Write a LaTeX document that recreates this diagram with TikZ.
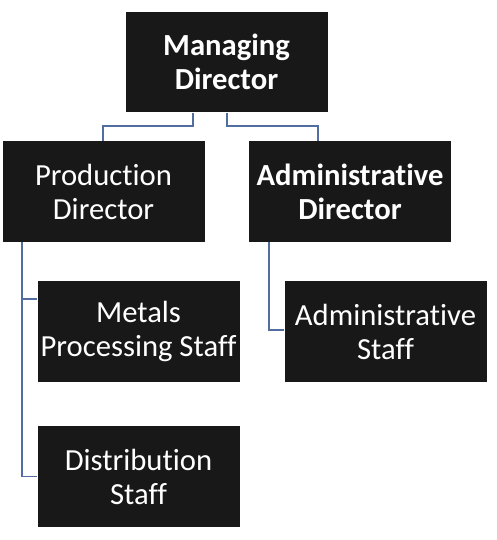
\documentclass[tikz,border=0pt]{standalone}
\usepackage{fontspec}
\setmainfont{Carlito}[Ligatures=NoCommon]
\definecolor{boxfill}{RGB}{24,24,24}
\definecolor{linkcol}{RGB}{82,110,160}
\begin{document}
\begin{tikzpicture}[x=0.75pt,y=-0.75pt,
  orgbox/.style={fill=boxfill,draw=none,text=white,minimum width=151.5pt,minimum height=75.5pt,
    align=center,inner sep=0pt,font=\fontsize{23}{25.5}\selectfont},
  link/.style={draw=linkcol,line width=1.1pt}]
\useasboundingbox (0,0) rectangle (497,540);
\node[orgbox,font=\fontsize{23}{25.5}\selectfont\bfseries] (md) at (226.5,62) {Managing\\Director};
\node[orgbox] (pd) at (103.5,191.5) {Production\\Director};
\node[orgbox,font=\fontsize{23}{25.5}\selectfont\bfseries] (ad) at (350,191.5) {Administrative\\Director};
\node[orgbox] (ms) at (138.5,331.5) {Metals\\Processing Staff};
\node[orgbox] (as) at (385.5,331.5) {Administrative\\Staff};
\node[orgbox] (ds) at (138.5,476.5) {Distribution\\Staff};
\draw[link] (md.south -| 193,0) |- (103,126) -- (pd.north -| 103,0);
\draw[link] (md.south -| 227,0) |- (318,126) -- (ad.north -| 318,0);
\draw[link] (pd.south -| 22,0) |- (ms.west |- 0,299);
\draw[link] (pd.south -| 22,0) |- (ds.west);
\draw[link] (ad.south -| 269,0) |- (as.west |- 0,330);
\end{tikzpicture}
\end{document}
